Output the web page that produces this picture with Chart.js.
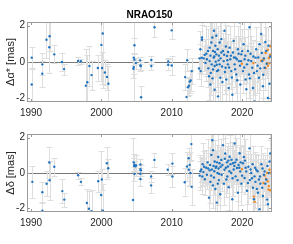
<!DOCTYPE html>
<html>
<head>
<meta charset="utf-8">
<script src="https://cdn.jsdelivr.net/npm/chart.js@4/dist/chart.umd.min.js"></script>
<style>
  body { margin: 0; background: #fff; }
  canvas { display: block; }
</style>
</head>
<body>
<canvas id="raChart" width="293" height="122"></canvas>
<canvas id="decChart" width="293" height="122"></canvas>
<script>
// ---- data (epoch in years, offsets and 1-sigma errors in mas) ----
const xTicks = [1990, 2000, 2010, 2020];
const yTicks = [-2, 0, 2];

// RA offsets, older sessions (blue)
const raYears = [
  1990.1, 1990.1, 1991.6, 1991.6, 1992.2, 1992.65, 1992.6, 1993.3, 1994.4, 1994.7,
  1996.7, 1997.1, 1998.3, 1998.0, 1997.8, 1998.6, 1999.5, 2000.0, 2000.2, 2000.1,
  2000.5, 2000.8, 2001.0, 2004.6, 2004.7, 2004.7, 2004.55, 2004.6, 2004.9, 2005.5,
  2005.55, 2005.6, 2005.65, 2007.1, 2007.1, 2007.55, 2009.5, 2009.5, 2010.0, 2010.0,
  2011.9, 2012.1, 2012.2, 2012.3, 2012.45, 2012.55, 2012.7, 2012.85,
  2013.88, 2013.97, 2014.07, 2014.12, 2014.26, 2014.3, 2014.3, 2014.54, 2014.68, 2014.92,
  2015.16, 2015.3, 2015.39, 2015.39, 2015.49, 2015.63, 2015.68, 2015.77, 2015.87, 2015.87,
  2015.96, 2016.0, 2016.1, 2016.1, 2016.2, 2016.25, 2016.34, 2016.34, 2016.43, 2016.53,
  2016.58, 2016.67, 2016.81, 2016.81, 2016.91, 2017.05, 2017.05, 2017.5, 2017.28, 2017.38,
  2017.66, 2017.76, 2017.85, 2017.99, 2018.09, 2018.23, 2018.32, 2018.46, 2018.61, 2018.7,
  2018.8, 2018.94, 2019.08, 2019.17, 2019.41, 2019.55, 2019.65, 2019.74, 2019.88, 2020.12,
  2020.21, 2020.35, 2020.5, 2020.69, 2020.83, 2020.97, 2021.06, 2021.3, 2021.44, 2021.54,
  2021.77, 2021.92, 2022.1, 2022.39, 2022.48, 2022.72, 2022.86, 2022.96, 2023.2, 2023.43,
  2023.67,
  2014.8, 2015.0, 2015.2, 2015.5, 2015.55, 2015.8, 2016.05, 2016.15, 2016.4, 2016.6,
  2016.7, 2016.95, 2017.15, 2017.2, 2017.45, 2017.55, 2017.7, 2017.9, 2018.0, 2018.15,
  2018.4, 2018.55, 2018.85, 2019.0, 2019.25, 2019.3, 2019.5, 2019.7, 2019.85, 2020.0,
  2020.3, 2020.45, 2020.6, 2020.9, 2021.1, 2021.2, 2021.6, 2021.7, 2022.0, 2022.2,
  2022.3, 2022.6, 2022.8, 2023.0, 2023.1, 2023.3, 2023.5, 2023.75, 2023.9, 2024.0
];
const raVals = [
  0.24, -1.24, -0.13, -0.65, 1.22, 1.42, 0.81, 0.42, 0.0, -0.39,
  0.06, 0.04, -0.22, -1.11, -1.3, -0.72, -0.33, 0.94, 1.57, -0.33,
  -0.58, -0.82, -1.2, 0.24, 0.92, 0.13, -0.37, -0.28, -0.06, 0.09,
  -0.19, -0.22, -1.94, 0.11, -0.22, 1.91, 0.03, -0.15, 1.74, -0.19,
  -0.83, -1.93, 0.1, -1.39, -1.3, -1.08, -1.02, -0.5,
  -0.36, 0.2, 0.7, -0.5, 0.24, 1.35, 1.22, 0.2, 0.39, 0.46,
  0.61, -0.78, 0.79, 0.05, -1.24, 1.07, -0.13, 1.35, 0.61, -0.41,
  0.24, 1.72, -0.22, -1.52, 0.89, 0.02, 1.44, 0.42, -0.5, 0.7,
  -1.89, 0.09, 1.07, -0.13, -0.87, 0.52, 1.26, 1.72, 0.61, 0.05,
  -0.32, -0.96, 0.33, -0.13, -1.43, 0.79, 0.15, -0.5, -1.8, 0.52,
  1.16, -0.13, 0.24, -0.69, 0.7, 0.05, 2.18, -1.24, 0.42, -0.5,
  0.98, 0.15, -0.96, -0.13, 0.61, -0.69, 1.91, 0.05, -0.32, -1.43,
  -2.17, 0.24, -0.5, -0.87, 0.98, 1.54, 0.05, -1.33, -0.32, 0.61,
  -1.98,
  -0.05, 0.15, -0.35, 0.35, -0.6, -0.9, 0.3, 0.55, -0.15, -0.45,
  0.35, 0.2, -0.25, -1.1, 0.4, -0.55, 0.85, 0.1, 0.55, -0.3,
  0.35, -0.85, 0.25, -0.4, 0.15, -1.0, 0.45, -0.2, 0.05, 0.6,
  -0.3, 0.35, -1.5, 0.1, -0.9, 0.45, 0.3, -0.6, 0.7, -0.2,
  0.25, -0.35, 0.5, -0.7, 0.2, 1.1, -0.1, 0.9, -1.2, 0.3
];
const raErrs = [
  0.6, 0.9, 0.6, 0.7, 1.0, 0.8, 1.4, 0.5, 0.5, 0.3,
  0.2, 0.15, 1.1, 1.5, 2.0, 0.8, 0.7, 2.0, 3.0, 0.9,
  0.7, 0.7, 1.0, 3.0, 0.4, 0.3, 0.5, 0.4, 0.3, 0.2,
  0.3, 0.2, 0.6, 0.2, 0.2, 0.55, 0.2, 0.3, 0.5, 0.5,
  0.7, 0.4, 0.6, 0.5, 0.5, 0.6, 0.6, 0.7,
  0.6, 0.8, 1.0, 0.8, 0.9, 1.1, 0.8, 0.7, 0.9, 1.5,
  1.2, 1.3, 1.8, 0.8, 1.4, 1.7, 1.0, 1.3, 0.9, 1.2,
  0.7, 1.6, 1.3, 1.5, 1.0, 0.8, 1.4, 1.2, 0.9, 1.3,
  1.6, 0.8, 1.5, 1.0, 1.3, 1.2, 1.5, 1.3, 1.0, 0.9,
  1.2, 1.4, 0.8, 1.0, 1.3, 1.2, 0.9, 1.0, 1.5, 0.8,
  1.3, 0.9, 1.2, 1.0, 1.3, 0.8, 1.0, 1.4, 0.9, 1.2,
  1.3, 0.8, 1.5, 1.0, 1.2, 1.3, 1.6, 1.0, 1.2, 1.4,
  1.3, 0.9, 1.2, 1.3, 1.4, 1.5, 1.0, 1.3, 1.2, 1.3,
  1.5,
  0.7, 0.8, 1.0, 0.9, 1.2, 1.3, 0.8, 1.0, 0.7, 1.2,
  0.9, 0.8, 1.0, 1.3, 0.9, 1.2, 1.2, 0.7, 1.0, 0.9,
  0.8, 1.3, 0.8, 1.0, 0.7, 1.4, 1.0, 0.8, 0.7, 1.2,
  0.9, 1.0, 1.5, 0.8, 1.3, 1.0, 0.9, 1.2, 1.2, 0.9,
  0.8, 1.2, 1.0, 1.3, 0.9, 1.3, 0.8, 1.0, 1.3, 0.9
];

// RA offsets, recent sessions (orange)
const raYearsNew = [2019.97, 2021.6, 2022.72, 2023.05, 2023.33, 2023.66, 2023.8, 2024.0, 2023.57, 2023.9, 2023.33, 2024.0, 2023.7];
const raValsNew  = [-0.09, -0.06, 0.07, 0.13, 0.5, 0.68, 0.22, 0.4, -0.06, -0.06, -0.33, 0.87, -0.2];
const raErrsNew  = [0.3, 0.3, 0.25, 0.3, 0.35, 0.3, 0.25, 0.3, 0.3, 0.25, 0.3, 0.35, 0.3];

// Dec offsets, older sessions (blue)
const decYears = [
  1990.19, 1991.61, 1991.61, 1992.22, 1992.6, 1992.65, 1993.31, 1994.45, 1994.73, 1996.7,
  1997.09, 1997.94, 1998.23, 1998.6, 1999.55, 2000.07, 2000.78, 2000.97, 1999.97, 2000.2,
  2004.6, 2004.7, 2004.94, 2004.65, 2004.8, 2004.7, 2004.5, 2005.55, 2005.55, 2005.6,
  2005.55, 2005.55, 2007.07, 2007.07, 2007.54, 2009.43, 2010.1, 2010.1,
  2011.85, 2012.18, 2012.4, 2012.42, 2012.65, 2012.79, 2012.84, 2012.55,
  2013.97, 2014.07, 2014.2, 2014.35, 2014.4, 2014.5, 2014.7, 2014.9, 2015.1, 2015.3,
  2015.4, 2015.5, 2015.63, 2015.77, 2015.87, 2015.95, 2016.0, 2016.1, 2016.2, 2016.34,
  2016.4, 2016.5, 2016.6, 2016.7, 2016.8, 2016.9, 2017.05, 2017.28, 2017.5, 2017.6,
  2017.76, 2017.85, 2017.99, 2018.1, 2018.23, 2018.35, 2018.46, 2018.61, 2018.7, 2018.8,
  2018.94, 2019.08, 2019.2, 2019.27, 2019.41, 2019.5, 2019.65, 2019.74, 2019.9, 2020.12,
  2020.25, 2020.35, 2020.5, 2020.59, 2020.7, 2020.83, 2021.06, 2021.2, 2021.3, 2021.4,
  2021.54, 2021.68, 2021.77, 2021.9, 2022.0, 2022.1, 2022.25, 2022.39, 2022.48, 2022.6,
  2022.75, 2022.86, 2022.96, 2023.1, 2023.2, 2023.43, 2023.55, 2023.67, 2023.8, 2023.9,
  2024.0,
  2014.6, 2015.0, 2015.2, 2015.45, 2015.6, 2015.7, 2015.85, 2016.05, 2016.25, 2016.45,
  2016.55, 2016.65, 2016.75, 2016.95, 2017.1, 2017.2, 2017.4, 2017.55, 2017.7, 2017.9,
  2018.05, 2018.2, 2018.5, 2018.65, 2018.9, 2019.0, 2019.35, 2019.6, 2019.8, 2020.0,
  2020.4, 2020.9, 2021.1, 2021.5, 2021.85, 2022.2, 2022.55, 2022.9, 2023.3, 2023.6
];
const decVals = [
  -0.5, -1.08, -2.13, -0.61, 0.59, -0.41, 0.35, -1.02, -1.5, -0.13,
  -0.5, -1.69, -2.02, -2.15, -0.46, -0.37, 0.55, 0.27, -1.24, -2.13,
  0.59, 0.46, 0.42, 0.4, 0.38, -0.06, -1.52, 0.48, 0.22, 0.15,
  -0.04, -0.34, -0.2, -0.7, 0.74, 0.18, 0.53, -0.2,
  -0.52, 0.37, 0.83, 0.18, 0.0, 1.63, -0.78, 0.46,
  -0.15, 0.1, 0.2, -0.2, 0.5, 0.05, -0.35, 0.3, 0.6, -1.39,
  0.15, -0.5, 1.02, 1.85, 1.29, 0.4, -0.25, 0.65, -0.9, 0.37,
  -1.67, 0.0, 0.9, -0.4, 0.55, -1.2, 0.74, 1.57, 0.18, 1.1,
  -0.37, 0.6, 0.37, -0.8, 0.92, 0.5, 0.0, -1.48, 0.55, 0.2,
  1.66, -0.19, 0.75, 0.28, -1.11, 0.45, 1.11, 0.09, -0.6, 0.55,
  0.9, -0.28, 0.3, 0.09, -1.0, -0.56, 1.39, 0.2, 0.0, -0.3,
  -0.83, -1.48, -0.19, -0.5, 0.18, -0.9, -1.11, -0.37, -2.04, -0.6,
  0.5, -0.83, -1.3, -0.1, 0.09, -0.37, -1.5, -1.76, 0.0, 0.65,
  1.1,
  0.35, -0.1, 0.25, 0.45, -0.15, 0.2, -0.7, 0.1, 0.3, 0.6,
  -0.6, 0.25, -0.05, 0.35, -0.1, 0.45, -0.6, 0.8, 0.3, -0.2,
  0.7, 0.1, 0.75, -0.3, 0.4, 0.6, -0.4, 0.3, 0.6, -0.15,
  0.7, 0.35, -0.4, 0.5, 0.3, 0.1, -0.2, 0.25, -0.6, 0.4
];
const decErrs = [
  0.9, 0.6, 0.5, 0.7, 0.9, 1.1, 0.5, 0.7, 0.4, 0.2,
  0.2, 0.8, 1.0, 1.2, 0.6, 0.6, 0.9, 0.5, 2.5, 1.5,
  0.5, 0.4, 0.6, 0.3, 0.3, 0.4, 3.5, 0.3, 0.3, 0.3,
  0.3, 0.4, 0.3, 0.4, 0.4, 0.3, 0.6, 0.6,
  0.8, 0.8, 0.6, 0.9, 0.7, 0.9, 1.0, 0.7,
  0.8, 0.9, 0.7, 1.0, 1.2, 0.8, 0.9, 1.0, 1.3, 1.5,
  0.8, 1.2, 1.4, 1.6, 1.3, 0.9, 1.0, 1.2, 1.4, 0.9,
  1.6, 0.8, 1.3, 1.0, 0.9, 1.4, 1.2, 1.4, 0.8, 1.3,
  1.0, 0.9, 0.9, 1.3, 1.2, 0.9, 0.8, 1.5, 1.0, 0.8,
  1.4, 0.9, 1.2, 0.8, 1.3, 1.0, 1.3, 0.8, 1.2, 1.0,
  1.3, 0.9, 0.8, 0.8, 1.4, 1.2, 1.5, 0.9, 0.8, 1.0,
  1.3, 1.5, 0.9, 1.2, 0.9, 1.3, 1.4, 1.0, 1.5, 1.2,
  1.0, 1.3, 1.4, 0.9, 0.9, 1.0, 1.4, 1.5, 1.0, 1.2,
  1.3,
  0.9, 0.8, 0.9, 1.0, 0.8, 0.9, 1.3, 0.8, 0.9, 1.0,
  1.2, 0.8, 0.8, 0.9, 0.9, 0.9, 1.2, 1.2, 0.8, 0.9,
  1.0, 0.8, 1.0, 1.0, 0.9, 1.0, 1.2, 0.9, 1.0, 0.9,
  1.2, 0.9, 1.0, 1.0, 0.9, 0.9, 1.0, 0.9, 1.2, 1.0
];

// Dec offsets, recent sessions (orange)
const decYearsNew = [2019.97, 2021.77, 2021.68, 2023.2, 2023.43, 2023.66, 2023.8, 2023.9, 2024.0, 2023.76, 2024.0, 2023.57, 2023.05];
const decValsNew  = [0.22, -1.63, -1.33, -0.15, -0.33, -0.47, -0.74, 0.18, 0.0, -0.93, -0.98, 0.0, -0.56];
const decErrsNew  = [0.3, 0.35, 0.3, 0.3, 0.25, 0.3, 0.3, 0.25, 0.3, 0.3, 0.35, 0.25, 0.3];

const xMin = 1989.43, xMax = 2024.25;
const yMin = -2.2, yMax = 2.2;

const BLUE = '#1f74c0';
const ORANGE = '#F28A1E';
const FONT = 'Liberation Sans, Arial, Helvetica, sans-serif';

function toPoints(xs, ys) {
  return xs.map((v, i) => ({ x: v, y: ys[i] }));
}

// ------------------ error bars, drawn behind the dots ------------------
const errorBars = {
  id: 'errorBars',
  beforeDatasetsDraw(chart) {
    const { ctx, chartArea: a, scales: { x, y } } = chart;
    ctx.save();
    ctx.beginPath();
    ctx.rect(a.left, a.top, a.width, a.height);
    ctx.clip();
    ctx.strokeStyle = '#dedede';
    ctx.lineWidth = 1;
    chart.data.datasets.forEach(ds => {
      ds.data.forEach((p, i) => {
        const px = Math.round(x.getPixelForValue(p.x)) + 0.5;
        const lo = Math.round(y.getPixelForValue(p.y - ds.errs[i])) + 0.5;
        const hi = Math.round(y.getPixelForValue(p.y + ds.errs[i])) + 0.5;
        ctx.beginPath();
        ctx.moveTo(px, lo); ctx.lineTo(px, hi);
        ctx.moveTo(px - 3, lo); ctx.lineTo(px + 3, lo);
        ctx.moveTo(px - 3, hi); ctx.lineTo(px + 3, hi);
        ctx.stroke();
      });
    });
    ctx.restore();
  }
};

// ------------------ box with inward ticks (matlab look) ------------------
const axesBox = {
  id: 'axesBox',
  afterDraw(chart) {
    const { ctx, chartArea: a, scales: { x, y } } = chart;
    ctx.save();
    ctx.strokeStyle = '#9b9b9b';
    ctx.lineWidth = 1;
    ctx.strokeRect(Math.round(a.left) + 0.5, Math.round(a.top) + 0.5,
                   Math.round(a.width) - 1, Math.round(a.height) - 1);
    ctx.beginPath();
    x.ticks.forEach(t => {
      const px = Math.round(x.getPixelForValue(t.value)) + 0.5;
      ctx.moveTo(px, a.bottom); ctx.lineTo(px, a.bottom - 3);
      ctx.moveTo(px, a.top); ctx.lineTo(px, a.top + 3);
    });
    y.ticks.forEach(t => {
      const py = Math.round(y.getPixelForValue(t.value)) + 0.5;
      ctx.moveTo(a.left, py); ctx.lineTo(a.left + 3, py);
      ctx.moveTo(a.right, py); ctx.lineTo(a.right - 3, py);
    });
    ctx.stroke();
    ctx.restore();
  }
};

function makeChart(id, opts) {
  return new Chart(document.getElementById(id), {
    type: 'scatter',
    data: {
      datasets: [
        { data: toPoints(opts.years, opts.vals), errs: opts.errs,
          backgroundColor: BLUE, borderColor: BLUE, pointRadius: 1.2, borderWidth: 0 },
        { data: toPoints(opts.yearsNew, opts.valsNew), errs: opts.errsNew,
          backgroundColor: ORANGE, borderColor: ORANGE, pointRadius: 1.2, borderWidth: 0 }
      ]
    },
    options: {
      responsive: false,
      animation: false,
      devicePixelRatio: 1,
      layout: { padding: { left: 0, right: 21, top: opts.padTop, bottom: 0 } },
      plugins: {
        legend: { display: false },
        tooltip: { enabled: false },
        title: {
          display: !!opts.title,
          text: opts.title || '',
          fullSize: false,
          color: '#000',
          font: { family: FONT, size: 10, weight: 'bold' },
          padding: { top: 9, bottom: 1 }
        }
      },
      scales: {
        x: {
          type: 'linear',
          min: xMin, max: xMax,
          afterBuildTicks: s => { s.ticks = xTicks.map(v => ({ value: v })); },
          afterFit: s => { s.height = opts.xHeight; },
          grid: { display: false, drawTicks: false },
          border: { display: false },
          ticks: { color: '#262626', padding: 5, font: { family: FONT, size: 10 },
                   callback: v => String(v) }
        },
        y: {
          type: 'linear',
          min: yMin, max: yMax,
          afterBuildTicks: s => { s.ticks = yTicks.map(v => ({ value: v })); },
          afterFit: s => { s.width = 27; },
          grid: {
            drawTicks: false,
            color: c => (c.tick && c.tick.value === 0) ? '#7a7a7a' : 'rgba(0,0,0,0)'
          },
          border: { display: false },
          ticks: { color: '#262626', padding: 2, font: { family: FONT, size: 10 } },
          title: {
            display: true,
            text: opts.yLabel,
            color: '#262626',
            font: { family: FONT, size: 11 },
            padding: { top: 4, bottom: 0 }
          }
        }
      }
    },
    plugins: [errorBars, axesBox]
  });
}

// ------------------ RA panel ------------------
makeChart('raChart', {
  years: raYears, vals: raVals, errs: raErrs,
  yearsNew: raYearsNew, valsNew: raValsNew, errsNew: raErrsNew,
  title: 'NRAO150', yLabel: 'Δα* [mas]', padTop: 0, xHeight: 20
});

// ------------------ Dec panel ------------------
makeChart('decChart', {
  years: decYears, vals: decVals, errs: decErrs,
  yearsNew: decYearsNew, valsNew: decValsNew, errsNew: decErrsNew,
  title: null, yLabel: 'Δδ [mas]', padTop: 12, xHeight: 32
});
</script>
</body>
</html>
